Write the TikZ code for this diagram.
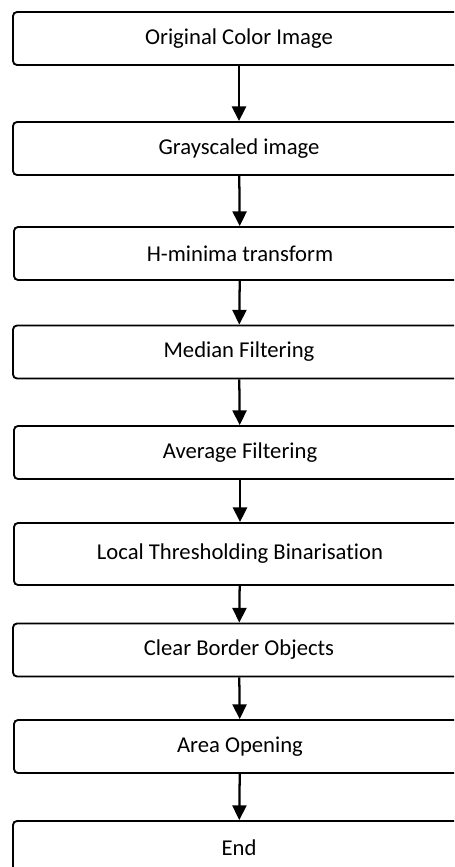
\documentclass[tikz,border=0pt]{standalone}
\usepackage{fontspec}
\setmainfont[Ligatures=NoCommon]{Carlito}
\usetikzlibrary{arrows.meta}

\begin{document}
\begin{tikzpicture}[x=0.75pt, y=-0.75pt,
    stage/.style={draw, line width=1.4pt, rounded corners=3pt,
      minimum width=339pt, minimum height=39.75pt, inner sep=0pt,
      font=\fontsize{17}{20}\selectfont},
    flow/.style={line width=1.7pt, -{Triangle[width=10.5pt, length=11pt]}}]
  \useasboundingbox (0,0) rectangle (454,867);
  \clip (0,0) rectangle (454,867);

  % Processing stages
  \node[stage] (orig)     at (239, 38.5)  {Original Color Image};
  \node[stage] (gray)     at (239, 148.5) {Grayscaled image};
  \node[stage] (hmin)     at (240, 253.5) {H-minima transform};
  \node[stage] (median)   at (239, 352)   {Median Filtering};
  \node[stage] (average)  at (240, 452.5) {Average Filtering};
  \node[stage, minimum height=46.5pt] (thresh) at (240, 554) {Local Thresholding Binarisation};
  \node[stage] (border)   at (239, 650)   {Clear Border Objects};
  \node[stage] (areaopen) at (240, 746.5) {Area Opening};
  \node[stage] (finish)   at (239, 847.5) {End};

  % Arrows between stages
  \draw[flow] (orig) -- (gray);
  \draw[flow] (gray) -- (hmin);
  \draw[flow] (hmin) -- (median);
  \draw[flow] (median) -- (average);
  \draw[flow] (average) -- (thresh);
  \draw[flow] (thresh) -- (border);
  \draw[flow] (border) -- (areaopen);
  \draw[flow] (areaopen) -- (finish);
\end{tikzpicture}
\end{document}
